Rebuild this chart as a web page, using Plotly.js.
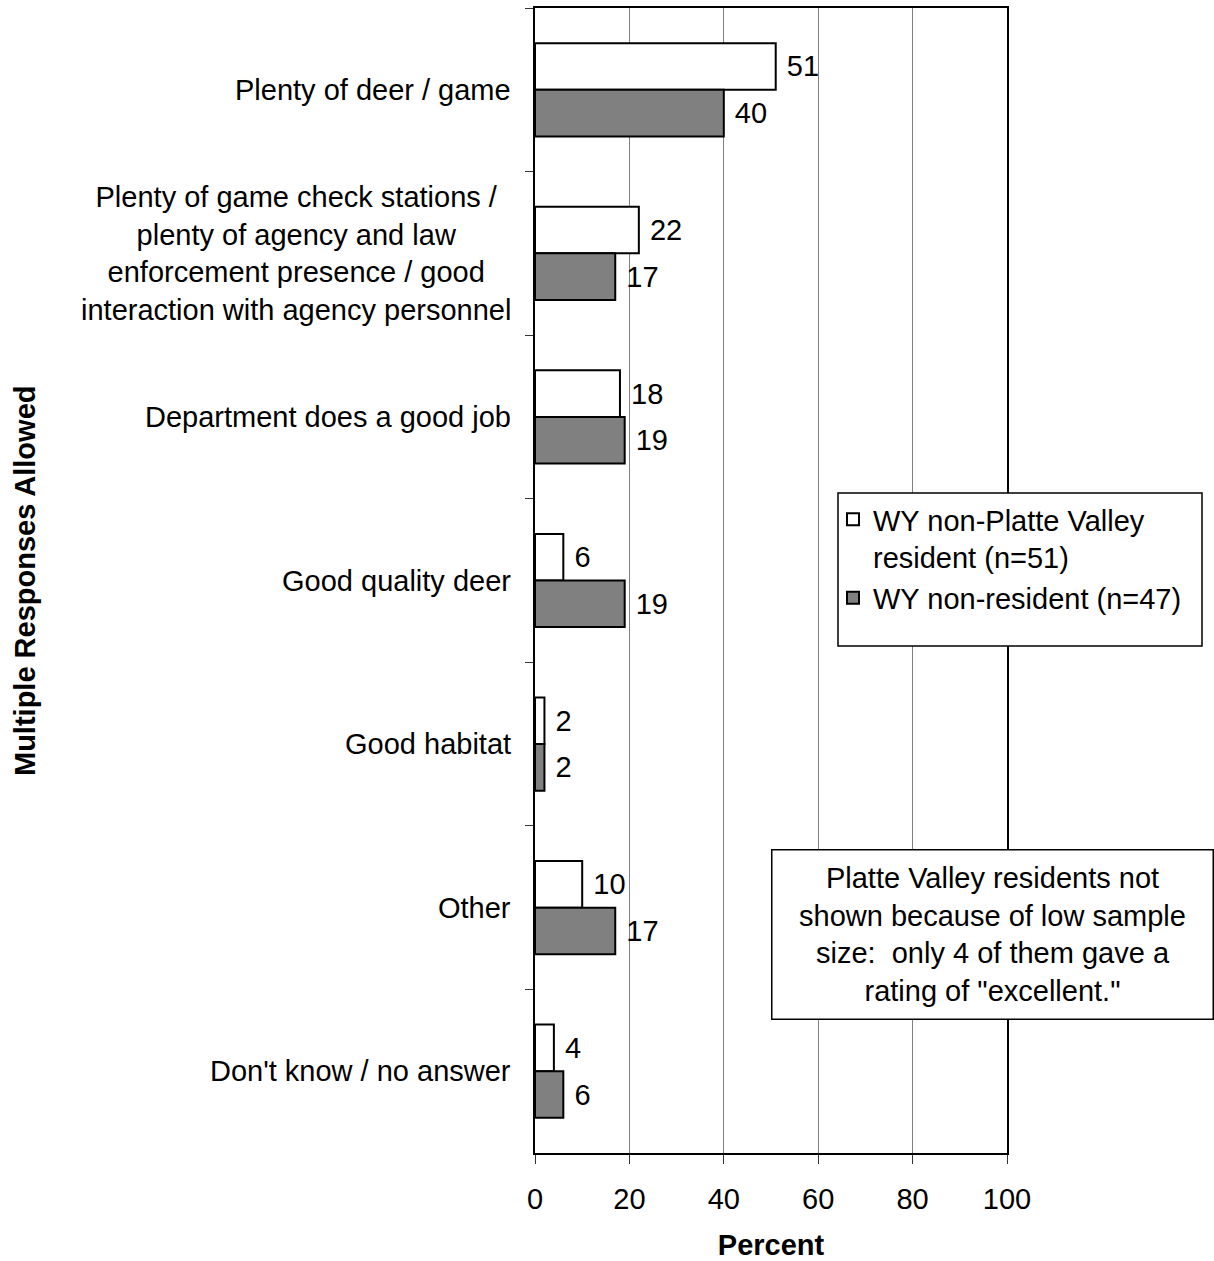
<!DOCTYPE html>
<html>
<head>
<meta charset="utf-8">
<script src="https://cdn.plot.ly/plotly-3.0.1.min.js"></script>
<style>
  html, body { margin: 0; padding: 0; background: #fff; }
  #chart { width: 1214px; height: 1261px; }
</style>
</head>
<body>
<div id="chart"></div>
<script>
// Reasons given for an "excellent" rating (multiple responses allowed)
const categories = [
  "Plenty of deer / game",
  "Plenty of game check stations",
  "Department does a good job",
  "Good quality deer",
  "Good habitat",
  "Other",
  "Don't know / no answer"
];
const categoryLabels = [
  "Plenty of deer / game",
  "Plenty of game check stations /<br>plenty of agency and law<br>enforcement presence / good<br>interaction with agency personnel",
  "Department does a good job",
  "Good quality deer",
  "Good habitat",
  "Other",
  "Don't know / no answer"
];
const wyNonPlatteValley = [51, 22, 18, 6, 2, 10, 4];
const wyNonResident = [40, 17, 19, 19, 2, 17, 6];
const seriesNames = ["WY non-Platte Valley<br>resident (n=51)", "WY non-resident (n=47)"];
const xTicks = [0, 20, 40, 60, 80, 100];
const noteText = "Platte Valley residents not<br>shown because of low sample<br>size:  only 4 of them gave a<br>rating of \"excellent.\"";

const FONT = '"Liberation Sans", Arial, sans-serif';
const FS = 29;
const W = 1214, H = 1261;
const M = { l: 535, r: 207, t: 8, b: 108 };
const PW = W - M.l - M.r, PH = H - M.t - M.b;
const px2x = px => (px - M.l) / PW;
const py2y = py => 1 - (py - M.t) / PH;

function barTrace(values, name, fill) {
  return {
    type: "bar",
    orientation: "h",
    y: categories,
    x: values,
    name: name,
    marker: { color: fill, line: { color: "#000", width: 2 } },
    text: values.map(v => " " + v),
    texttemplate: "%{text}",
    textposition: "outside",
    textfont: { family: FONT, size: FS, color: "#000" },
    constraintext: "none",
    cliponaxis: false,
    hoverinfo: "skip"
  };
}

const traces = [
  barTrace(wyNonPlatteValley, seriesNames[0], "#ffffff"),
  barTrace(wyNonResident, seriesNames[1], "#808080")
];

const annotations = categories.map((c, i) => ({
  xref: "paper", yref: "y",
  x: px2x(513), y: c,
  xanchor: "right", yanchor: "middle",
  align: "center",
  text: categoryLabels[i],
  showarrow: false,
  font: { family: FONT, size: FS, color: "#000" }
}));

annotations.push({
  xref: "paper", yref: "paper",
  x: px2x(25), y: py2y(581),
  xanchor: "center", yanchor: "middle",
  textangle: -90,
  text: "<b>Multiple Responses Allowed</b>",
  showarrow: false,
  font: { family: FONT, size: FS, color: "#000" }
});

annotations.push({
  xref: "paper", yref: "paper",
  x: px2x(992), y: py2y(934),
  xanchor: "center", yanchor: "middle",
  align: "center",
  text: noteText,
  showarrow: false,
  width: 440, height: 168,
  bgcolor: "#fff",
  bordercolor: "#000",
  borderwidth: 1.5,
  borderpad: 0,
  font: { family: FONT, size: FS, color: "#000" }
});

const layout = {
  width: W, height: H,
  margin: M,
  paper_bgcolor: "#fff",
  plot_bgcolor: "#fff",
  font: { family: FONT, size: FS, color: "#000" },
  barmode: "group",
  bargap: 0.43,
  bargroupgap: 0,
  showlegend: true,
  legend: {
    x: px2x(833), y: py2y(494),
    xanchor: "left", yanchor: "top",
    bgcolor: "rgba(0,0,0,0)",
    borderwidth: 0,
    valign: "top",
    traceorder: "normal",
    font: { family: FONT, size: FS, color: "#000" }
  },
  xaxis: {
    range: [0, 100],
    tickvals: xTicks,
    ticks: "outside", ticklen: 9, tickcolor: "#333", tickwidth: 1,
    ticklabelstandoff: 10,
    showgrid: true, gridcolor: "#808080", gridwidth: 1,
    zeroline: false,
    showline: true, linecolor: "#000", linewidth: 2, mirror: true,
    tickfont: { family: FONT, size: FS, color: "#000" },
    title: { text: "<b>Percent</b>", font: { family: FONT, size: FS, color: "#000" }, standoff: 22 },
    fixedrange: true
  },
  yaxis: {
    type: "category",
    autorange: "reversed",
    tickson: "boundaries",
    ticks: "outside", ticklen: 8, tickcolor: "#333", tickwidth: 1,
    showticklabels: false,
    showgrid: false,
    zeroline: false,
    showline: true, linecolor: "#000", linewidth: 2, mirror: true,
    fixedrange: true
  },
  shapes: [{
    type: "rect", xref: "paper", yref: "paper", layer: "above",
    x0: px2x(838), x1: px2x(1202), y0: py2y(646), y1: py2y(493),
    fillcolor: "#fff",
    line: { color: "#000", width: 1.5 }
  }],
  annotations: annotations
};

Plotly.newPlot("chart", traces, layout, { displayModeBar: false, staticPlot: true });
</script>
</body>
</html>
